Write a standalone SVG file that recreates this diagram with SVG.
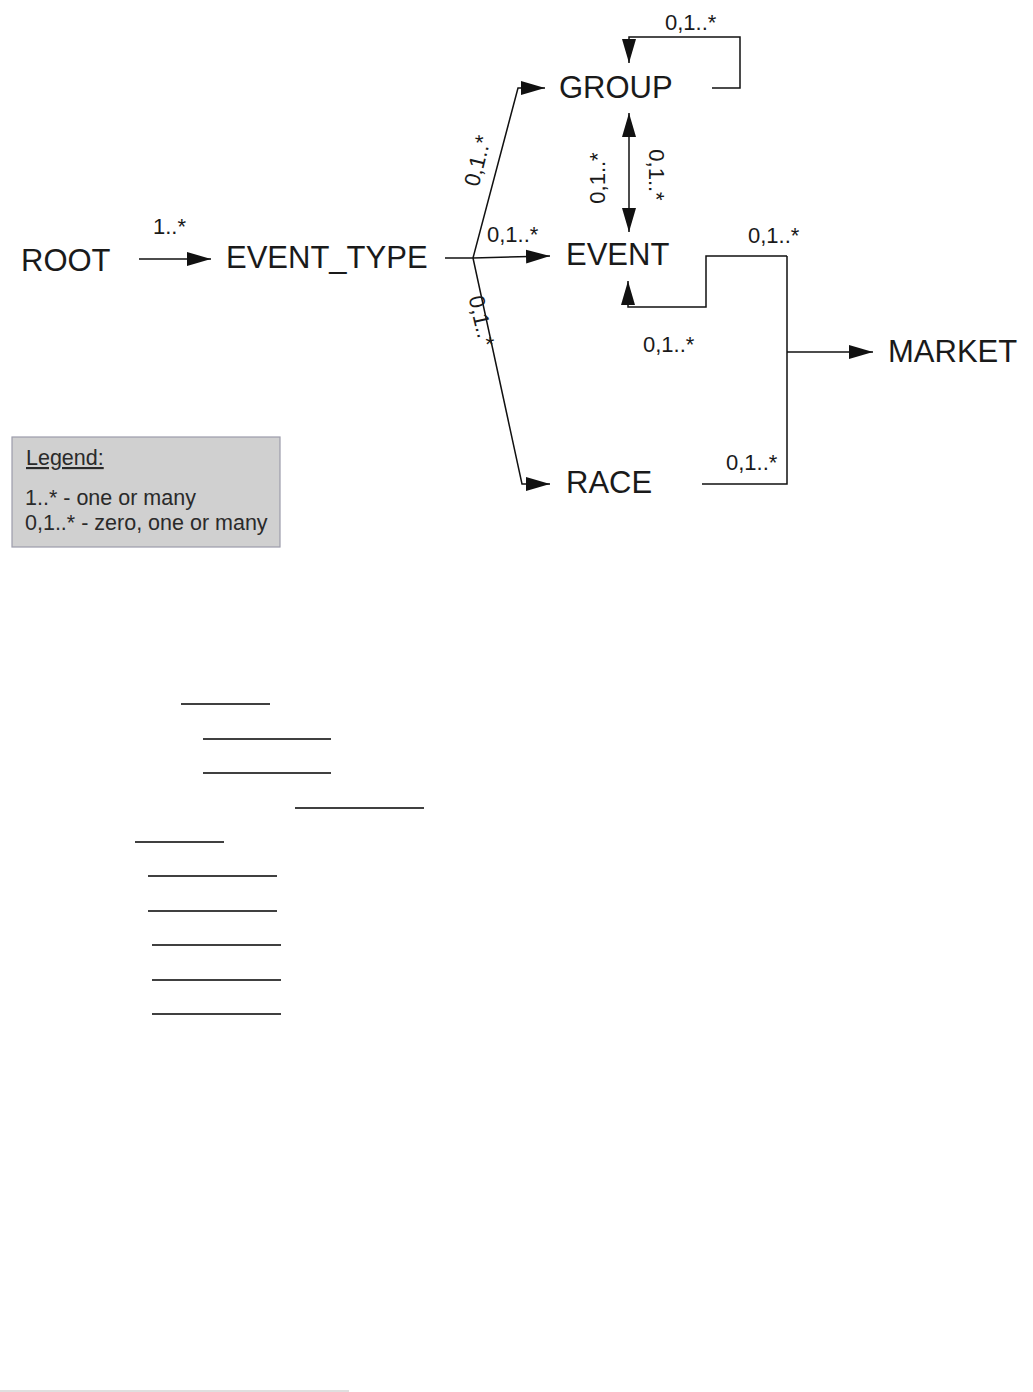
<svg xmlns="http://www.w3.org/2000/svg" width="1033" height="1392" viewBox="0 0 1033 1392">
<defs>
<marker id="ah" markerUnits="userSpaceOnUse" markerWidth="25" markerHeight="16" refX="24" refY="8" orient="auto-start-reverse" viewBox="0 0 25 16">
<path d="M0,1 L24,8 L0,15 z" fill="#111"/>
</marker>
<style>
.node{font-family:"Liberation Sans",Arial,sans-serif;font-size:31px;fill:#1a1a1a}
.lbl{font-family:"Liberation Sans",Arial,sans-serif;font-size:22px;fill:#1a1a1a}
.leg{font-family:"Liberation Sans",Arial,sans-serif;font-size:21.5px;fill:#2a2a2a}
.c{fill:none;stroke:#111;stroke-width:1.5}
.ul{stroke:#000;stroke-width:1.6}
</style>
</defs>
<rect width="1033" height="1392" fill="#fff"/>
<g id="connectors">
<path class="c" d="M139,259 L211,259" marker-end="url(#ah)"/>
<path class="c" d="M445,258 L473,258"/>
<path class="c" d="M473,258 L518,88 L545,88" marker-end="url(#ah)"/>
<path class="c" d="M473,258 L550,256" marker-end="url(#ah)"/>
<path class="c" d="M473,258 L522,484 L550,484" marker-end="url(#ah)"/>
<path class="c" d="M712,88 L740,88 L740,37 L629,37 L629,63" marker-end="url(#ah)"/>
<path class="c" d="M629,113 L629,232" marker-start="url(#ah)" marker-end="url(#ah)"/>
<path class="c" d="M787,256 L706,256 L706,307 L628,307 L628,281" marker-end="url(#ah)"/>
<path class="c" d="M702,484 L787,484 L787,256"/>
<path class="c" d="M787,352 L873,352" marker-end="url(#ah)"/>
</g>
<g id="labels">
<text class="lbl" x="153" y="234">1..*</text>
<text class="lbl" x="665" y="30">0,1..*</text>
<text class="lbl" x="487" y="242">0,1..*</text>
<text class="lbl" x="748" y="243">0,1..*</text>
<text class="lbl" x="643" y="352">0,1..*</text>
<text class="lbl" x="726" y="470">0,1..*</text>
<text class="lbl" text-anchor="middle" x="0" y="7" transform="translate(478,161) rotate(-76)">0,1..*</text>
<text class="lbl" text-anchor="middle" x="0" y="7" transform="translate(481,321) rotate(77)">0,1..*</text>
<text class="lbl" text-anchor="middle" x="0" y="7" transform="translate(598,178) rotate(-90)">0,1..*</text>
<text class="lbl" text-anchor="middle" x="0" y="7" transform="translate(656,175) rotate(90)">0,1..*</text>
</g>
<g id="ROOT"><text class="node" x="21" y="271">ROOT</text></g>
<g id="EVENT_TYPE"><text class="node" x="226" y="268">EVENT_TYPE</text></g>
<g id="GROUP"><text class="node" x="559" y="98">GROUP</text></g>
<g id="EVENT"><text class="node" x="566" y="265">EVENT</text></g>
<g id="RACE"><text class="node" x="566" y="493">RACE</text></g>
<g id="MARKET"><text class="node" x="888" y="362">MARKET</text></g>
<g id="legend">
<rect x="12" y="437" width="268" height="110" fill="#d0d0d0" stroke="#9c9cab" stroke-width="1.2"/>
<text class="leg" x="26" y="465" text-decoration="underline">Legend:</text>
<text class="leg" x="25" y="505">1..* - one or many</text>
<text class="leg" x="25" y="530">0,1..* - zero, one or many</text>
</g>
<g id="underlines">
<line class="ul" x1="181" y1="704" x2="270" y2="704"/>
<line class="ul" x1="203" y1="739" x2="331" y2="739"/>
<line class="ul" x1="203" y1="773" x2="331" y2="773"/>
<line class="ul" x1="295" y1="808" x2="424" y2="808"/>
<line class="ul" x1="135" y1="842" x2="224" y2="842"/>
<line class="ul" x1="148" y1="876" x2="277" y2="876"/>
<line class="ul" x1="148" y1="911" x2="277" y2="911"/>
<line class="ul" x1="152" y1="945" x2="281" y2="945"/>
<line class="ul" x1="152" y1="980" x2="281" y2="980"/>
<line class="ul" x1="152" y1="1014" x2="281" y2="1014"/>
<line x1="0" y1="1391" x2="349" y2="1391" stroke="#d4d4d4" stroke-width="1.5"/>
</g>
</svg>
